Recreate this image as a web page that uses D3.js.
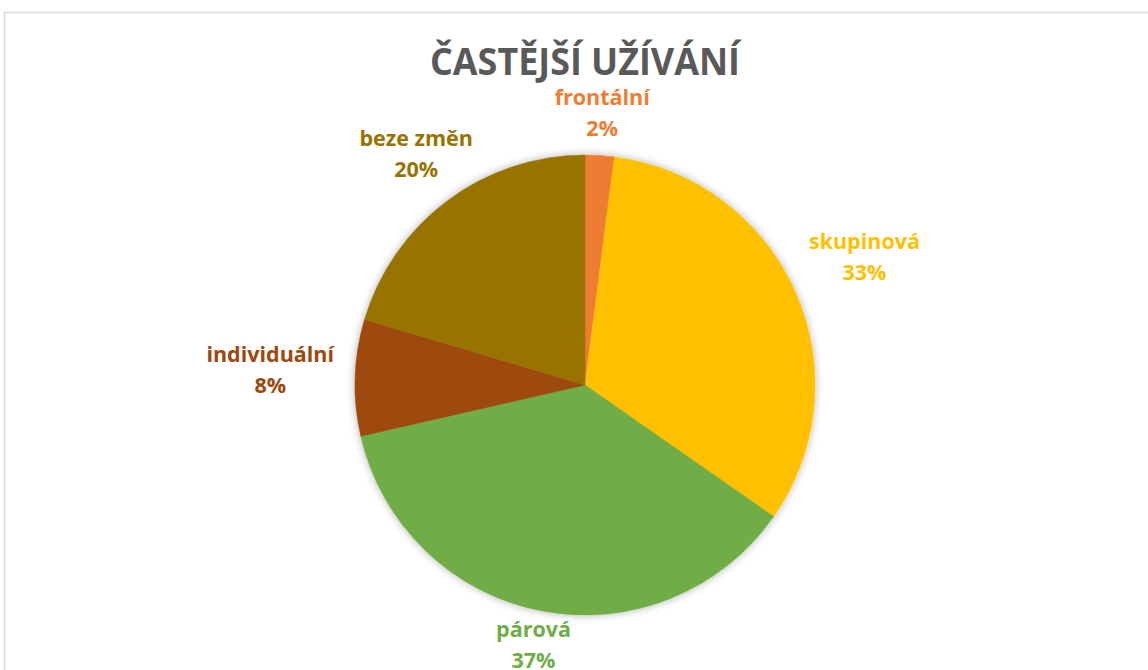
<!DOCTYPE html>
<html>
<head>
    <meta charset="utf-8" />
    <title>Častější užívání</title>
    <script src="https://cdn.jsdelivr.net/npm/d3@7"></script>
    <style>
        body { margin: 0; background: #fff; }
        text { font-family: "Open Sans", Lato, sans-serif; font-weight: bold; }
    </style>
</head>
<body>
    <svg width="1148" height="670"></svg>
    <script>

        var categories = ["frontální", "skupinová", "párová", "individuální", "beze změn"];
        var counts = [1, 16, 18, 4, 10];
        var percentLabels = ["2%", "33%", "37%", "8%", "20%"];
        var colors = ["#ED7D31", "#FFC000", "#70AD47", "#9E480E", "#997300"];

        var svg = d3.select("svg"),
            width = +svg.attr("width"),
            height = +svg.attr("height");

        // chart frame (runs off the right and bottom edge)
        svg.append("rect")
            .attr("x", 4.5).attr("y", 12.5)
            .attr("width", 1200).attr("height", 700)
            .attr("fill", "#fff")
            .attr("stroke", "#d9d9d9")
            .attr("stroke-width", 1.5);

        var defs = svg.append("defs");
        var f = defs.append("filter").attr("id", "shadow")
            .attr("x", "-10%").attr("y", "-10%").attr("width", "120%").attr("height", "120%");
        f.append("feDropShadow")
            .attr("dx", 0).attr("dy", 0).attr("stdDeviation", 4)
            .attr("flood-color", "#000").attr("flood-opacity", 0.3);

        svg.append("text")
            .attr("x", 585).attr("y", 75)
            .attr("text-anchor", "middle")
            .attr("fill", "#595959")
            .attr("font-family", "Lato, sans-serif")
            .attr("font-size", 38)
            .attr("textLength", 310)
            .attr("lengthAdjust", "spacingAndGlyphs")
            .text("ČASTĚJŠÍ UŽÍVÁNÍ");

        var cx = 585, cy = 385, r = 230;

        var pie = d3.pie().sort(null).value(function (d) { return d; });
        var arcs = pie(counts);
        var arc = d3.arc().innerRadius(0).outerRadius(r);

        var g = svg.append("g").attr("transform", "translate(" + cx + "," + cy + ")");

        g.append("g").attr("filter", "url(#shadow)")
            .selectAll("path")
            .data(arcs)
            .enter()
            .append("path")
            .attr("d", arc)
            .attr("fill", function (d, i) { return colors[i]; })
            .attr("stroke", function (d, i) { return colors[i]; })
            .attr("stroke-width", 0.5);

        // labels centred on an ellipse around the pie, along the slice middle
        var rx = 315, ry = 268, oy = -4, lineH = 31;
        var labels = g.selectAll(".lbl")
            .data(arcs)
            .enter()
            .append("g")
            .attr("class", "lbl")
            .attr("transform", function (d) {
                var a = (d.startAngle + d.endAngle) / 2;
                var s = Math.sin(a), c = -Math.cos(a);
                var t = 1 / Math.sqrt((s / rx) * (s / rx) + (c / ry) * (c / ry));
                return "translate(" + (t * s) + "," + (oy + t * c) + ")";
            });

        var txt = labels.append("text")
            .attr("text-anchor", "middle")
            .attr("fill", function (d, i) { return colors[i]; })
            .attr("font-size", 21.5);
        txt.append("tspan").attr("x", 0).attr("y", -lineH / 2 + 7)
            .text(function (d, i) { return categories[i]; });
        txt.append("tspan").attr("x", 0).attr("y", lineH / 2 + 7)
            .text(function (d, i) { return percentLabels[i]; });

    </script>
</body>
</html>
